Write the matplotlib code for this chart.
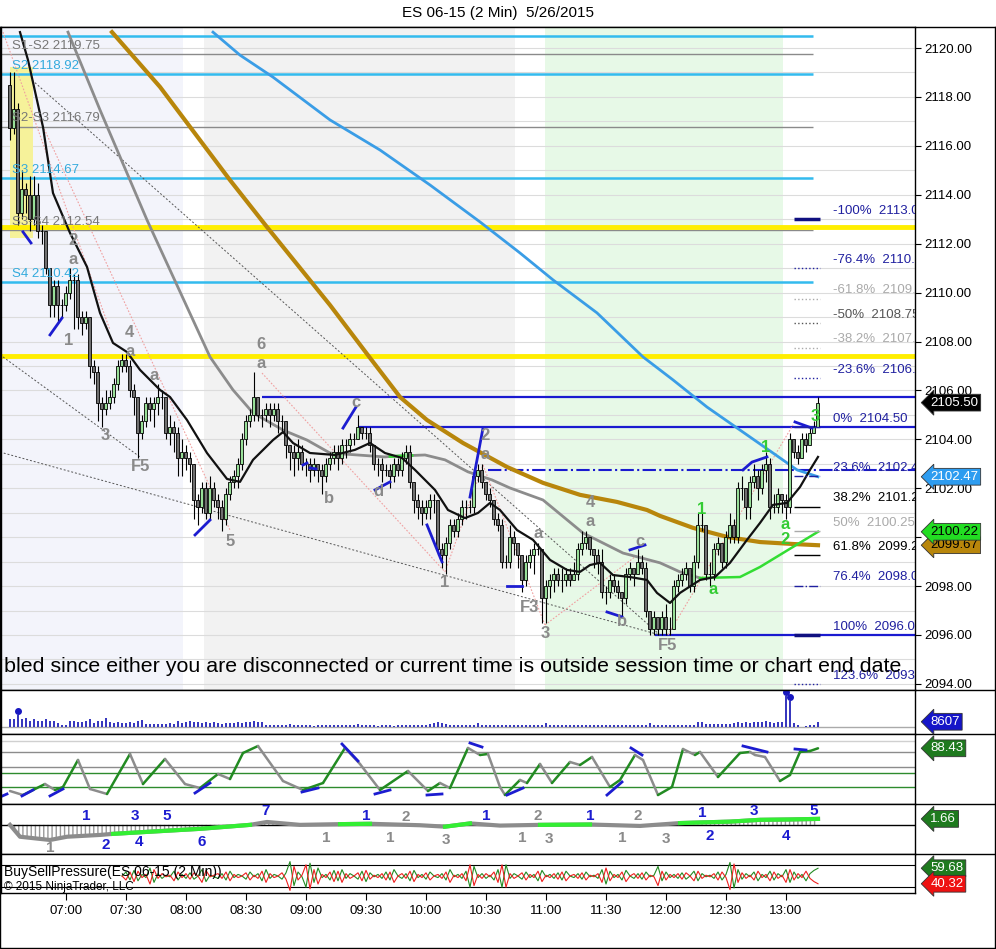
import matplotlib.pyplot as plt
import numpy as np
from matplotlib.patches import Rectangle
import matplotlib.transforms as mtransforms

plt.rcParams['font.family'] = ['Liberation Sans', 'DejaVu Sans']

# ---------------- data ----------------
bar_start = 6 * 60 + 32      # first bar 06:32 (minutes after midnight)
bar_len = 2                  # 2 minute bars
first_open = 2118.5

closes = [
    2116.75, 2117.5, 2113.25, 2114.25, 2114.0, 2113.0, 2114.0, 2112.5, 2112.5, 2111.0, 2109.5, 2110.25, 2109.5, 2109.5, 2110.0,
    2110.5, 2110.5, 2109.0, 2108.75, 2109.0, 2107.0, 2106.75, 2105.5, 2105.25, 2105.5, 2105.75, 2106.25, 2107.0, 2107.25, 2107.0,
    2106.0, 2105.75, 2104.25, 2104.75, 2105.5, 2105.25, 2105.5, 2105.75, 2105.75, 2104.25, 2104.5, 2104.25, 2103.25, 2103.5, 2103.25,
    2103.0, 2101.5, 2101.25, 2102.0, 2101.0, 2102.0, 2101.5, 2101.25, 2100.75, 2101.75, 2102.25, 2102.5, 2103.0, 2104.0, 2104.75,
    2105.0, 2105.75, 2105.0, 2105.0, 2105.25, 2105.0, 2105.25, 2104.75, 2104.75, 2103.75, 2103.5, 2103.25, 2103.5, 2103.0, 2103.0,
    2102.75, 2103.0, 2102.75, 2102.5, 2103.0, 2103.25, 2103.5, 2103.25, 2103.75, 2103.75, 2104.0, 2104.0, 2104.5, 2104.25, 2104.25,
    2103.75, 2103.0, 2103.0, 2102.75, 2102.75, 2102.5, 2103.0, 2102.75, 2103.25, 2103.5, 2102.25, 2101.5, 2101.25, 2101.0, 2101.25,
    2101.5, 2101.5, 2099.5, 2099.25, 2099.75, 2100.5, 2100.25, 2100.75, 2101.25, 2101.25, 2101.25, 2102.5, 2102.75, 2102.25, 2101.75,
    2101.5, 2100.75, 2100.5, 2099.0, 2099.0, 2100.0, 2099.75, 2099.25, 2098.25, 2099.0, 2099.25, 2099.5, 2099.5, 2097.5, 2098.0,
    2098.25, 2098.5, 2098.25, 2098.25, 2098.5, 2098.25, 2098.5, 2099.5, 2099.75, 2100.0, 2099.5, 2099.25, 2099.0, 2097.75, 2097.75,
    2098.25, 2098.0, 2097.75, 2097.5, 2098.5, 2098.75, 2098.5, 2099.0, 2098.75, 2097.0, 2096.25, 2096.75, 2096.25, 2096.75, 2096.25,
    2096.25, 2098.0, 2098.25, 2098.5, 2098.75, 2098.0, 2099.0, 2100.5, 2100.5, 2098.5, 2098.5, 2099.5, 2099.75, 2099.0, 2100.0,
    2100.5, 2100.0, 2102.0, 2102.0, 2101.25, 2102.25, 2102.5, 2102.0, 2102.75, 2103.0, 2101.25, 2101.25, 2101.75, 2101.5, 2101.25,
    2104.0, 2103.5, 2103.25, 2104.0, 2103.75, 2104.25, 2104.5, 2105.5]
highs = [
    2119.0, 2119.0, 2117.75, 2115.0, 2114.5, 2114.75, 2114.75, 2114.5, 2112.75, 2112.5, 2111.0, 2110.5, 2110.5, 2109.75, 2110.25,
    2111.0, 2110.75, 2110.75, 2109.25, 2109.25, 2109.0, 2107.25, 2107.0, 2105.75, 2106.0, 2106.0, 2106.5, 2107.25, 2107.5, 2107.5,
    2107.25, 2106.25, 2105.75, 2105.0, 2105.75, 2105.75, 2105.75, 2106.25, 2106.0, 2105.75, 2105.0, 2104.75, 2104.5, 2104.0, 2103.75,
    2103.5, 2103.0, 2101.75, 2102.25, 2102.25, 2102.5, 2102.25, 2101.75, 2101.5, 2102.0, 2102.5, 2102.75, 2103.25, 2104.25, 2105.0,
    2105.25, 2106.75, 2105.75, 2105.25, 2105.5, 2105.5, 2105.5, 2105.5, 2105.0, 2104.75, 2103.75, 2103.75, 2104.0, 2103.75, 2103.25,
    2103.25, 2103.25, 2103.0, 2103.0, 2103.25, 2103.5, 2103.75, 2103.75, 2104.0, 2104.0, 2104.25, 2104.25, 2105.0, 2104.5, 2104.5,
    2104.5, 2103.75, 2103.25, 2103.25, 2103.0, 2103.0, 2103.25, 2103.25, 2103.5, 2103.75, 2103.75, 2102.25, 2101.75, 2101.5, 2101.5,
    2101.75, 2101.75, 2101.5, 2099.75, 2100.0, 2100.75, 2100.75, 2101.0, 2101.5, 2101.5, 2101.5, 2102.75, 2103.0, 2103.0, 2102.25,
    2102.0, 2101.5, 2101.0, 2100.75, 2099.25, 2100.5, 2100.25, 2099.75, 2099.25, 2099.25, 2099.5, 2099.75, 2099.75, 2099.5, 2098.25,
    2098.5, 2098.75, 2098.75, 2098.75, 2098.75, 2098.75, 2099.0, 2099.75, 2100.25, 2100.25, 2100.0, 2099.5, 2099.5, 2099.5, 2098.0,
    2098.5, 2098.5, 2098.25, 2097.75, 2098.75, 2099.0, 2098.75, 2099.5, 2099.25, 2099.0, 2097.0, 2097.0, 2096.75, 2097.0, 2097.25,
    2096.75, 2098.25, 2098.5, 2098.75, 2099.0, 2098.75, 2099.25, 2101.0, 2101.0, 2100.5, 2099.0, 2099.75, 2100.0, 2099.75, 2100.25,
    2101.0, 2100.75, 2102.25, 2102.5, 2102.0, 2102.5, 2103.0, 2102.75, 2103.0, 2103.5, 2103.25, 2101.75, 2102.0, 2101.75, 2101.75,
    2104.25, 2104.0, 2103.75, 2104.25, 2104.25, 2104.5, 2104.75, 2105.75]
lows = [
    2116.25, 2116.5, 2112.75, 2113.0, 2113.25, 2112.5, 2112.75, 2112.25, 2112.0, 2110.75, 2109.0, 2109.0, 2108.75, 2109.0, 2109.25,
    2109.75, 2108.5, 2108.5, 2108.25, 2108.5, 2106.5, 2106.25, 2104.75, 2104.5, 2105.0, 2105.25, 2105.5, 2106.0, 2106.75, 2106.75,
    2105.75, 2105.0, 2103.25, 2104.0, 2104.5, 2104.75, 2104.5, 2105.0, 2105.25, 2104.0, 2103.75, 2103.5, 2102.5, 2102.5, 2102.75,
    2102.25, 2100.75, 2100.5, 2101.0, 2100.75, 2100.75, 2101.25, 2100.75, 2100.25, 2100.5, 2101.5, 2102.0, 2102.0, 2102.75, 2103.75,
    2104.5, 2104.75, 2104.75, 2104.5, 2104.75, 2104.5, 2104.75, 2104.25, 2104.25, 2103.25, 2102.75, 2102.5, 2102.75, 2102.75, 2102.5,
    2102.25, 2102.5, 2102.25, 2101.75, 2102.25, 2102.75, 2103.0, 2102.75, 2103.0, 2103.25, 2103.5, 2103.75, 2104.0, 2104.0, 2104.0,
    2103.5, 2102.75, 2102.5, 2102.25, 2102.5, 2102.0, 2102.25, 2102.5, 2102.5, 2103.0, 2102.0, 2101.0, 2100.75, 2100.5, 2100.75,
    2100.75, 2101.0, 2099.25, 2098.75, 2098.5, 2099.5, 2100.0, 2100.0, 2100.5, 2100.75, 2101.0, 2101.0, 2102.25, 2102.0, 2101.5,
    2101.25, 2100.5, 2100.25, 2098.75, 2098.75, 2098.75, 2099.25, 2098.75, 2097.75, 2098.0, 2098.75, 2098.5, 2099.25, 2096.5, 2096.5,
    2097.5, 2097.75, 2098.0, 2097.75, 2098.0, 2098.0, 2098.25, 2098.25, 2099.25, 2099.5, 2099.25, 2098.75, 2098.5, 2097.5, 2097.25,
    2097.5, 2097.75, 2097.5, 2096.75, 2097.25, 2098.25, 2098.0, 2098.5, 2098.5, 2096.75, 2096.0, 2096.0, 2096.0, 2096.0, 2096.0,
    2096.0, 2096.25, 2097.75, 2098.0, 2098.25, 2097.75, 2097.75, 2098.75, 2100.25, 2098.25, 2098.0, 2098.25, 2099.25, 2098.75, 2098.75,
    2099.75, 2099.75, 2099.75, 2101.5, 2100.75, 2100.75, 2102.0, 2101.5, 2101.75, 2102.25, 2100.75, 2101.0, 2101.0, 2101.0, 2100.75,
    2101.0, 2103.25, 2103.0, 2103.25, 2103.5, 2103.75, 2104.25, 2104.5]
volumes = [
    13800, 13500, 20500, 13700, 15400, 10300, 13600, 10200, 10400, 13800, 10300, 10100, 6900, 2600, 2500,
    10400, 10200, 8700, 8500, 10300, 13800, 6900, 10400, 10200, 15500, 8600, 6800, 8600, 6900, 6800,
    8700, 6900, 10300, 12000, 5200, 5100, 5300, 5000, 5200, 5100, 6900, 5200, 10300, 6800, 8600,
    10200, 8700, 8500, 6900, 8600, 6800, 8700, 6900, 5100, 6900, 6800, 7000, 8600, 6900, 8700,
    8500, 10300, 8600, 8700, 3400, 3500, 3300, 3600, 3400, 3500, 5100, 3400, 3300, 3500, 3400,
    3300, 900, 3400, 3500, 3300, 3400, 3200, 3500, 3400, 3300, 3600, 3400, 5000, 3300, 3400,
    3500, 3300, 1700, 3400, 3300, 3500, 1800, 3400, 3300, 3500, 3600, 3400, 3300, 3500, 3400,
    5200, 7000, 8600, 6900, 5100, 3400, 3300, 3500, 3400, 3600, 3300, 3500, 6900, 3400, 3300,
    3500, 3400, 3300, 3600, 3400, 3500, 3300, 3400, 3500, 3300, 3400, 3600, 3400, 3500, 6900,
    3400, 3300, 3500, 3400, 3300, 3600, 3400, 3500, 3300, 3400, 3500, 3300, 3400, 3600, 3400,
    3300, 3500, 3400, 3300, 3600, 3400, 3500, 3300, 3400, 3500, 6800, 3400, 3300, 3500, 3400,
    3300, 3600, 3400, 3500, 3300, 3400, 3500, 8600, 8700, 5200, 5100, 5300, 5000, 5200, 5100,
    5300, 6900, 8600, 7000, 8500, 6900, 8700, 8600, 8800, 10300, 8600, 6900, 8700, 8700, 51600,
    43000, 6900, 3400, 0, 1700, 3400, 3300, 8607]
vol_marks = [2, 194, 195]

bsp_first_bar = 28
buy_pressure = [
    50, 55, 45, 57, 44, 52, 48, 60, 42, 53, 47, 51, 49, 56, 45,
    52, 47, 54, 46, 50, 58, 43, 51, 49, 47, 53, 45, 56, 48, 52,
    50, 46, 55, 49, 53, 44, 58, 47, 52, 50, 46, 54, 68, 38, 55,
    49, 36, 66, 42, 60, 48, 52, 45, 57, 44, 58, 47, 53, 50, 46,
    56, 43, 54, 49, 52, 47, 55, 45, 58, 50, 47, 53, 44, 57, 48,
    52, 46, 55, 50, 48, 53, 45, 58, 49, 52, 47, 56, 36, 62, 48,
    53, 47, 51, 45, 58, 36, 64, 47, 53, 50, 46, 55, 48, 52, 44,
    57, 49, 52, 47, 54, 45, 56, 50, 48, 53, 46, 55, 49, 51, 47,
    58, 40, 56, 48, 52, 45, 57, 50, 47, 53, 46, 55, 49, 51, 62,
    44, 55, 48, 52, 47, 54, 46, 50, 56, 44, 53, 49, 51, 47, 55,
    45, 52, 67, 35, 58, 46, 53, 49, 55, 44, 52, 48, 56, 45, 53,
    49, 58, 42, 55, 47, 52, 44, 53, 57, 59.68]

# moving averages (time in minutes, price)
fast_t = [397, 401, 408.5, 413.5, 422, 430.5, 437, 443.5, 450.5, 457, 467, 472, 480.5, 490.5, 500.5, 507, 513.5,
          523.5, 528.5, 533.5, 542, 554.5, 564.5, 572, 579.5, 588, 594.5, 604.5, 611, 619.5, 626, 632, 637, 645.5,
          653.5, 662, 670.5, 677, 682, 687, 693.5, 702, 710.5, 715.5, 722, 727, 737, 744.5, 752, 760.5, 767, 773.5,
          780.5, 787, 792, 796]
fast_p = [2120.65, 2119.51, 2116.77, 2114.07, 2112.44, 2111.05, 2109.17, 2107.94, 2107.57, 2106.84, 2106.02, 2105.73,
          2104.79, 2103.44, 2102.38, 2102.26, 2103.16, 2103.97, 2104.30, 2103.85, 2103.44, 2103.36, 2103.57, 2103.85,
          2103.44, 2103.24, 2102.75, 2101.93, 2101.11, 2100.78, 2100.99, 2101.40, 2101.11, 2100.29, 2099.89, 2099.07,
          2098.66, 2098.58, 2098.86, 2098.95, 2098.45, 2098.37, 2098.25, 2097.72, 2097.31, 2097.72, 2098.25, 2098.37,
          2098.95, 2099.89, 2100.58, 2101.32, 2101.40, 2102.05, 2102.75, 2103.28]
mid_t = [421, 437, 460.5, 483.5, 492, 503.5, 513.5, 528.5, 540.5, 552, 579.5, 582, 593, 599.5, 609.5, 621, 633, 642,
         658.5, 678.5, 698.5, 717, 727, 737]
mid_p = [2120.65, 2117.47, 2112.97, 2108.88, 2107.37, 2106.02, 2105.08, 2104.38, 2103.97, 2103.44, 2103.28, 2103.3,
         2103.34, 2103.36, 2103.16, 2102.67, 2102.34, 2102.01, 2101.52, 2100.17, 2099.35, 2098.95, 2098.58, 2098.33]
mid_up_t = [737, 757, 767, 783.5, 796]
mid_up_p = [2098.33, 2098.37, 2098.78, 2099.60, 2100.22]
slow_t = [443, 467, 502, 520.5, 552, 572, 587, 600.5, 618.5, 640.5, 658.5, 677, 695.5, 710.5, 717, 733.5, 750.5, 767,
          783.5, 796]
slow_p = [2120.65, 2118.41, 2114.60, 2112.68, 2109.49, 2107.33, 2105.73, 2104.79, 2103.85, 2102.87, 2102.22, 2101.73,
          2101.44, 2101.11, 2100.87, 2100.38, 2100.01, 2099.80, 2099.72, 2099.67]
long_t = [493.5, 507, 523.5, 552, 577, 602, 627, 647, 663.5, 685.5, 708.5, 723.5, 740.5, 757, 773.5, 785.5, 796]
long_p = [2120.65, 2119.71, 2118.81, 2117.06, 2115.83, 2114.40, 2112.89, 2111.62, 2110.52, 2109.17, 2107.37, 2106.43,
          2105.32, 2104.38, 2103.44, 2102.75, 2102.47]

# drawn objects
trend_lines = [[(403, 2118.69), (717, 2096.0)], [(388.5, 2107.37), (457, 2103.28)], [(387, 2103.48), (717, 2096.0)]]
wave_lines = [[(388.5, 2120.65), (442, 2108.47)], [(407, 2117.06), (502, 2100.29)], [(518, 2106.71), (609.5, 2098.58)],
              [(609.5, 2098.58), (628.5, 2102.95)], [(628.5, 2102.95), (659.5, 2096.41)],
              [(659.5, 2096.41), (707, 2099.35)], [(721, 2096.0), (783.5, 2104.59)]]
blue_marks = [[(398.5, 2112.48), (402.5, 2112.03)], [(412, 2108.27), (418, 2108.96)], [(484.5, 2100.09), (492, 2100.70)],
              [(538.5, 2102.95), (540.5, 2103.03)], [(542, 2102.83), (545, 2102.79)], [(558.5, 2104.46), (565, 2105.32)],
              [(574.5, 2101.93), (582, 2102.26)], [(600.5, 2100.50), (608, 2098.99)], [(622, 2101.64), (628.5, 2104.46)],
              [(640.5, 2098.0), (648, 2098.0)], [(690.5, 2096.94), (698, 2096.74)], [(702, 2099.48), (709.5, 2099.68)],
              [(758.5, 2102.75), (763, 2103.07), (770.5, 2103.28)], [(784.5, 2104.71), (793, 2104.46)]]
blue_levels = [2105.75, 2104.5, 2096.0]
blue_level_start = [518, 566, 714.5]
dashdot_level, dashdot_start = 2102.75, 631
yellow_levels = [2112.7, 2107.4]
s1_level = 2120.5
pivot_names = ['S1-S2', 'S2', 'S2-S3', 'S3', 'S3-S4', 'S4']
pivot_values = [2119.75, 2118.92, 2116.79, 2114.67, 2112.54, 2110.42]
pivot_end = 793.5

fib_names = ['-100%', '-76.4%', '-61.8%', '-50%', '-38.2%', '-23.6%', '0%', '23.6%', '38.2%', '50%', '61.8%',
             '76.4%', '100%', '123.6%']
fib_prices = [2113.00, 2110.99, 2109.75, 2108.75, 2107.75, 2106.51, 2104.50, 2102.49, 2101.25, 2100.25, 2099.25,
              2098.01, 2096.00, 2093.99]
fib_style = [('#101080', '-', 2.5), ('#2020a0', ':', 1), ('#aaaaaa', ':', 1), ('#555555', ':', 1), ('#aaaaaa', ':', 1),
             ('#2020a0', ':', 1), ('#2020a0', '-', 1), ('#2020a0', '-.', 1), ('black', '-', 1), ('#aaaaaa', '-', 1),
             ('black', '-', 1), ('#2020a0', '-.', 1), ('#101080', '-', 2.5), ('#2020a0', ':', 1)]

wave_labels_gray = [('2', 423.5, 2112.15), ('a', 423.5, 2111.37), ('1', 421.5, 2108.06), ('4', 451.5, 2108.35),
                    ('a', 452, 2107.61), ('a', 464, 2106.59), ('3', 439.5, 2104.14), ('F5', 457.5, 2102.87),
                    ('6', 517.5, 2107.86), ('a', 517.5, 2107.12), ('5', 502, 2099.84), ('c', 565, 2105.49),
                    ('b', 551.5, 2101.56), ('d', 576, 2101.85), ('2', 629.5, 2104.14), ('a', 629.5, 2103.40),
                    ('1', 609.5, 2098.13), ('F3', 652, 2097.11), ('3', 659.5, 2096.08), ('a', 656, 2100.13),
                    ('4', 682, 2101.40), ('a', 682, 2100.62), ('c', 707, 2099.84), ('b', 698, 2096.57),
                    ('F5', 721, 2095.55)]
wave_labels_green = [('1', 738, 2101.15), ('a', 743.5, 2097.84), ('1', 770, 2103.65), ('a', 779.5, 2100.50),
                     ('2', 779.5, 2099.89), ('3', 794.5, 2104.95)]

osc_t = [392, 398.5, 409.5, 414.5, 418.5, 426, 432, 440.5, 452, 458.5, 469.5, 479.5, 487, 496, 502, 508.5, 516,
         528.5, 538.5, 548.5, 559.5, 567, 577, 591, 601, 607, 612, 621, 627, 631, 637, 639.5, 647, 650.5, 657, 663,
         672, 677, 683, 692, 697, 704.5, 708.5, 716, 723, 728.5, 734.5, 737, 746, 757, 762, 764.5, 769.5, 777, 782,
         787, 792, 796]
osc_v = [9.1, 1.7, 22.1, 11.0, 16.6, 66.7, 12.9, 3.6, 77.9, 22.1, 68.6, 22.1, 14.7, 40.7, 31.4, 79.7, 92.7, 27.7,
         11.0, 24.0, 89.0, 59.3, 11.0, 46.3, 9.1, 24.0, 14.7, 89.0, 76.0, 77.9, 16.6, 1.7, 29.6, 24.0, 59.3, 24.0,
         63.0, 57.4, 72.3, 16.6, 29.6, 76.0, 66.7, 1.7, 16.6, 87.1, 76.0, 81.6, 35.1, 79.7, 81.6, 76.0, 72.3, 27.7,
         38.9, 81.6, 83.4, 88.43]
osc_levels = [102, 81.6, 53.7, 42.6, 16.6]
osc_marks = [[(387, -2), (390.5, 3.6)], [(398, 0), (403.5, 11)], [(412, 0), (418.5, 12.9)], [(484.5, 5.4), (492, 24)],
             [(538, 7.3), (546, 14.7)], [(558, 96.4), (566, 64.9)], [(574.5, 3.6), (582, 11)],
             [(600.5, 1.7), (608, 3.6)], [(622, 98.3), (628, 90.8)], [(640.5, 1.7), (648.5, 14.7)],
             [(690.5, 1.7), (698, 25.9)], [(702.5, 89), (708, 76)], [(758.5, 92.7), (770.5, 81.6)],
             [(784.5, 87.1), (790, 85.3)]]

macd_t = [392, 397, 412, 420.5, 437, 443.5, 462, 487, 512, 520.5, 537, 557, 572, 597, 609.5, 622, 637, 657, 682, 707,
          727, 752, 767, 782, 796]
macd_v = [0.0, -3.3, -4.2, -3.3, -2.8, -2.5, -1.9, -1.1, 0.0, 0.8, 0.0, 0.2, 0.3, -0.1, -0.5, 0.4, -0.2, 0.0, 0.1,
          -0.3, 0.5, 0.9, 1.4, 1.5, 1.66]
macd_green_runs = [(5, 8), (11, 12), (14, 15), (17, 18), (20, 24)]
macd_labels_blue = [('1', 430, 2.5), ('3', 454.5, 2.5), ('5', 470.5, 2.5), ('7', 520, 3.9), ('1', 570, 2.5),
                    ('1', 630, 2.6), ('1', 682, 2.5), ('1', 738, 3.3), ('3', 764, 3.9), ('5', 794, 3.9),
                    ('2', 440, -5.6), ('4', 456.5, -4.7), ('6', 488, -4.7), ('2', 742, -3.1), ('4', 780, -3.1)]
macd_labels_gray = [('2', 590, 2.2), ('2', 656, 2.5), ('2', 706, 2.5), ('1', 412, -6.4), ('1', 550, -3.6),
                    ('1', 582, -3.6), ('3', 610, -4.2), ('1', 648, -3.6), ('3', 661.5, -3.9), ('1', 698, -3.6),
                    ('3', 720, -3.9)]

time_labels = ['07:00', '07:30', '08:00', '08:30', '09:00', '09:30', '10:00', '10:30', '11:00', '11:30', '12:00',
               '12:30', '13:00']

# ---------------- figure ----------------
W, H = 996, 949
fig = plt.figure(figsize=(W / 100, H / 100), dpi=100)
fig.patch.set_facecolor('white')
XLIM = (387.5, 844.5)


def panel(top, bottom):
    a = fig.add_axes([1 / W, 1 - bottom / H, 914 / W, (bottom - top) / H])
    a.set_xlim(*XLIM)
    a.set_xticks([])
    a.set_yticks([])
    for s in a.spines.values():
        s.set_color('black')
        s.set_linewidth(1)
    return a


def tag(a, y, text, fc, tc='white'):
    a.annotate(text, xy=(1, y), xycoords=a.get_yaxis_transform(), xytext=(11, 0),
               textcoords='offset points', ha='left', va='center', fontsize=9.5, color=tc,
               annotation_clip=False, zorder=30,
               bbox=dict(boxstyle='larrow,pad=0.18', fc=fc, ec='#333333', lw=0.6))


ax = panel(27, 690)
ax.set_ylim(2093.75, 2120.86)

# background session shading
for x0, x1, c in [(387.5, 478.5, '#f3f4fb'), (489, 644.5, '#f2f2f2'), (659.5, 778.5, '#e7f9e7')]:
    ax.axvspan(x0, x1, color=c, lw=0, zorder=0)
ax.set_yticks(np.arange(2094, 2121, 2))
ax.set_yticks(np.arange(2094, 2121, 1), minor=True)
ax.yaxis.tick_right()
ax.set_yticklabels(['%.2f' % v for v in np.arange(2094, 2121, 2)], fontsize=9.5)
ax.tick_params(axis='y', which='major', length=4, pad=3)
ax.tick_params(axis='y', which='minor', length=0)
ax.grid(True, axis='y', which='both', color='#dcdcdc', lw=0.8, zorder=0.5)
ax.set_axisbelow(True)

ax.add_patch(Rectangle((392, 2112.23), 11.5, 6.99, facecolor='#f6f29a', edgecolor='none', zorder=0.8))

# pivot lines
ax.hlines(s1_level, XLIM[0], pivot_end, color='#33bbee', lw=1.8, zorder=1)
for name, val in zip(pivot_names, pivot_values):
    cyan = '-' not in name
    col = '#33bbee' if cyan else '#8a8a8a'
    ax.hlines(val, XLIM[0], pivot_end, color=col, lw=1.8 if cyan else 1, zorder=1)
    ax.annotate('%s %.2f' % (name, val), xy=(393, val), xytext=(0, 6), textcoords='offset points',
                fontsize=9.5, color='#33aadd' if cyan else '#777777', va='center', zorder=6)
for val in yellow_levels:
    ax.axhline(val, color='#ffee00', lw=3.5, zorder=1.5)

# horizontal blue levels
for val, st in zip(blue_levels, blue_level_start):
    ax.hlines(val, st, XLIM[1], color='#1a1ad0', lw=1.6, zorder=2)
ax.hlines(dashdot_level, dashdot_start, XLIM[1], color='#1a1ad0', lw=1.5, linestyles='-.', zorder=2)

# trend / wave lines
for seg in trend_lines:
    xs, ys = zip(*seg)
    ax.plot(xs, ys, color='#555555', lw=0.7, ls=(0, (2, 2)), zorder=2)
for seg in wave_lines:
    xs, ys = zip(*seg)
    ax.plot(xs, ys, color='#f0a0a0', lw=0.8, ls=(0, (1.5, 1.5)), zorder=2)

# moving averages
ax.plot(long_t, long_p, color='#3a9de6', lw=2, zorder=3)
ax.plot(slow_t, slow_p, color='#b8860b', lw=3, zorder=3)
ax.plot(mid_t, mid_p, color='#8c8c8c', lw=2, zorder=3)
ax.plot(mid_t[11:13], mid_p[11:13], color='#33dd33', lw=2, zorder=3.1)
ax.plot(mid_up_t, mid_up_p, color='#33dd33', lw=1.8, zorder=3)

# candles
c = np.array(closes)
o = np.array([first_open] + closes[:-1])
t = bar_start + bar_len * np.arange(len(c))
ax.vlines(t, lows, highs, color='black', lw=0.8, zorder=4)
up = c >= o
ax.bar(t[up], (c - o)[up], bottom=o[up], width=1.5, color='#98df98', edgecolor='black', lw=0.6, zorder=5)
ax.bar(t[~up], (c - o)[~up], bottom=o[~up], width=1.5, color='#6f6f6f', edgecolor='black', lw=0.6, zorder=5)
ax.plot(fast_t, fast_p, color='#111111', lw=1.6, zorder=5.5)

for seg in blue_marks:
    xs, ys = zip(*seg)
    ax.plot(xs, ys, color='#1c1cd0', lw=2, zorder=6)

for txt, x, y in wave_labels_gray:
    ax.text(x, y, txt, color='#8a8a8a', fontsize=12, fontweight='bold', ha='center', va='center', zorder=7)
for txt, x, y in wave_labels_green:
    ax.text(x, y, txt, color='#33cc33', fontsize=12, fontweight='bold', ha='center', va='center', zorder=7)

# fibonacci block
for name, val, (col, ls, lw) in zip(fib_names, fib_prices, fib_style):
    ax.hlines(val, 784, 797, color=col, linestyles=ls, lw=lw, zorder=6)
    tcol = col if col not in ('#101080',) else '#2020a0'
    ax.annotate('%s  %.2f' % (name, val), xy=(803.5, val), xytext=(0, 6), textcoords='offset points',
                fontsize=9.5, color=tcol, va='center', zorder=6, annotation_clip=True, clip_on=True)

ax.text(3 / 914, 23 / 663, 'bled since either you are disconnected or current time is outside session time or chart end date',
        transform=ax.transAxes, fontsize=15.4, va='center', ha='left', zorder=8)

tag(ax, 2099.67, '2099.67', '#b8860b', 'black')
tag(ax, 2100.22, '2100.22', '#22dd22', 'black')
tag(ax, 2102.47, '2102.47', '#2d9cf0')
tag(ax, 2105.50, '2105.50', 'black')

# ---------------- volume ----------------
axv = panel(690, 734)
axv.set_ylim(-12000, 62000)
axv.axhline(0, color='#aaaaaa', lw=1)
axv.vlines(t, 0, volumes, color='#2323b8', lw=1.3)
mk = mtransforms.offset_copy(axv.transData, fig=fig, x=0, y=3, units='points')
axv.plot(t[vol_marks], np.array(volumes)[vol_marks], 'o', color='#1818c0', ms=4, transform=mk)
tag(axv, volumes[-1], str(volumes[-1]), '#1515c8')

# ---------------- oscillator ----------------
axo = panel(734, 804)
axo.set_ylim(-15, 115)
for lv, col in zip(osc_levels, ['#d0d0d0', '#8c8c8c', '#8c8c8c', '#2e8b2e', '#2e8b2e']):
    axo.axhline(lv, color=col, lw=1)
for k in range(len(osc_t) - 1):
    col = '#228b22' if osc_v[k + 1] >= osc_v[k] else '#8c8c8c'
    axo.plot(osc_t[k:k + 2], osc_v[k:k + 2], color=col, lw=1.8, solid_capstyle='round')
for seg in osc_marks:
    xs, ys = zip(*seg)
    axo.plot(xs, ys, color='#1c1cd0', lw=2)
tag(axo, osc_v[-1], '%.2f' % osc_v[-1], '#1e7a1e')

# ---------------- histogram panel ----------------
axm = panel(804, 854)
axm.set_ylim(-8.1, 5.8)
axm.axhline(0, color='black', lw=1)
axm.fill_between(macd_t, 0, macd_v, facecolor='none', edgecolor='#9a9a9a', hatch='||||', lw=0)
axm.plot(macd_t, macd_v, color='#8c8c8c', lw=3)
for a, b in macd_green_runs:
    axm.plot(macd_t[a:b + 1], macd_v[a:b + 1], color='#33ee33', lw=3)
for txt, x, y in macd_labels_blue:
    axm.text(x, y, txt, color='#1c1cd0', fontsize=11, fontweight='bold', ha='center', va='center', clip_on=True)
for txt, x, y in macd_labels_gray:
    axm.text(x, y, txt, color='#8a8a8a', fontsize=11, fontweight='bold', ha='center', va='center', clip_on=True)
tag(axm, macd_v[-1], '%.2f' % macd_v[-1], '#1e7a1e')

# ---------------- buy / sell pressure ----------------
axb = panel(854, 893)
axb.set_ylim(28.75, 77.5)
for lv in (63.75, 36.25):
    axb.axhline(lv, color='black', lw=0.8)
bp = np.array(buy_pressure)
tb = t[bsp_first_bar:]
axb.plot(tb, bp, color='#228b22', lw=0.8)
axb.plot(tb, 100 - bp, color='#ee2020', lw=0.8)
axb.text(3 / 914, 0.53, 'BuySellPressure(ES 06-15 (2 Min))', transform=axb.transAxes, fontsize=10, va='center')
axb.text(3 / 914, 0.15, '\u00a9 2015 NinjaTrader, LLC', transform=axb.transAxes, fontsize=8.5, va='center')
tag(axb, bp[-1], '%.2f' % bp[-1], '#1e7a1e')
tag(axb, 100 - bp[-1], '%.2f' % (100 - bp[-1]), '#ee1111')

tick_pos = [int(s[:2]) * 60 + int(s[3:]) for s in time_labels]
axb.set_xticks(tick_pos)
axb.set_xticklabels(time_labels, fontsize=9.5)
axb.tick_params(axis='x', length=5, pad=4)

# outer frame
frame = fig.add_axes([0.3 / W, 1 - 948 / H, 995 / W, (948 - 27) / H], zorder=-1)
frame.set_xticks([])
frame.set_yticks([])
frame.patch.set_alpha(0)
for s in frame.spines.values():
    s.set_linewidth(1)
for yy in (690, 734, 804, 854):
    frame.axhline((948 - yy) / (948 - 27), xmin=915 / 995, xmax=1, color='black', lw=1)

fig.text(0.5, 1 - 13 / H, 'ES 06-15 (2 Min)  5/26/2015', ha='center', va='center', fontsize=11)

fig.savefig('out.png', dpi=100)
